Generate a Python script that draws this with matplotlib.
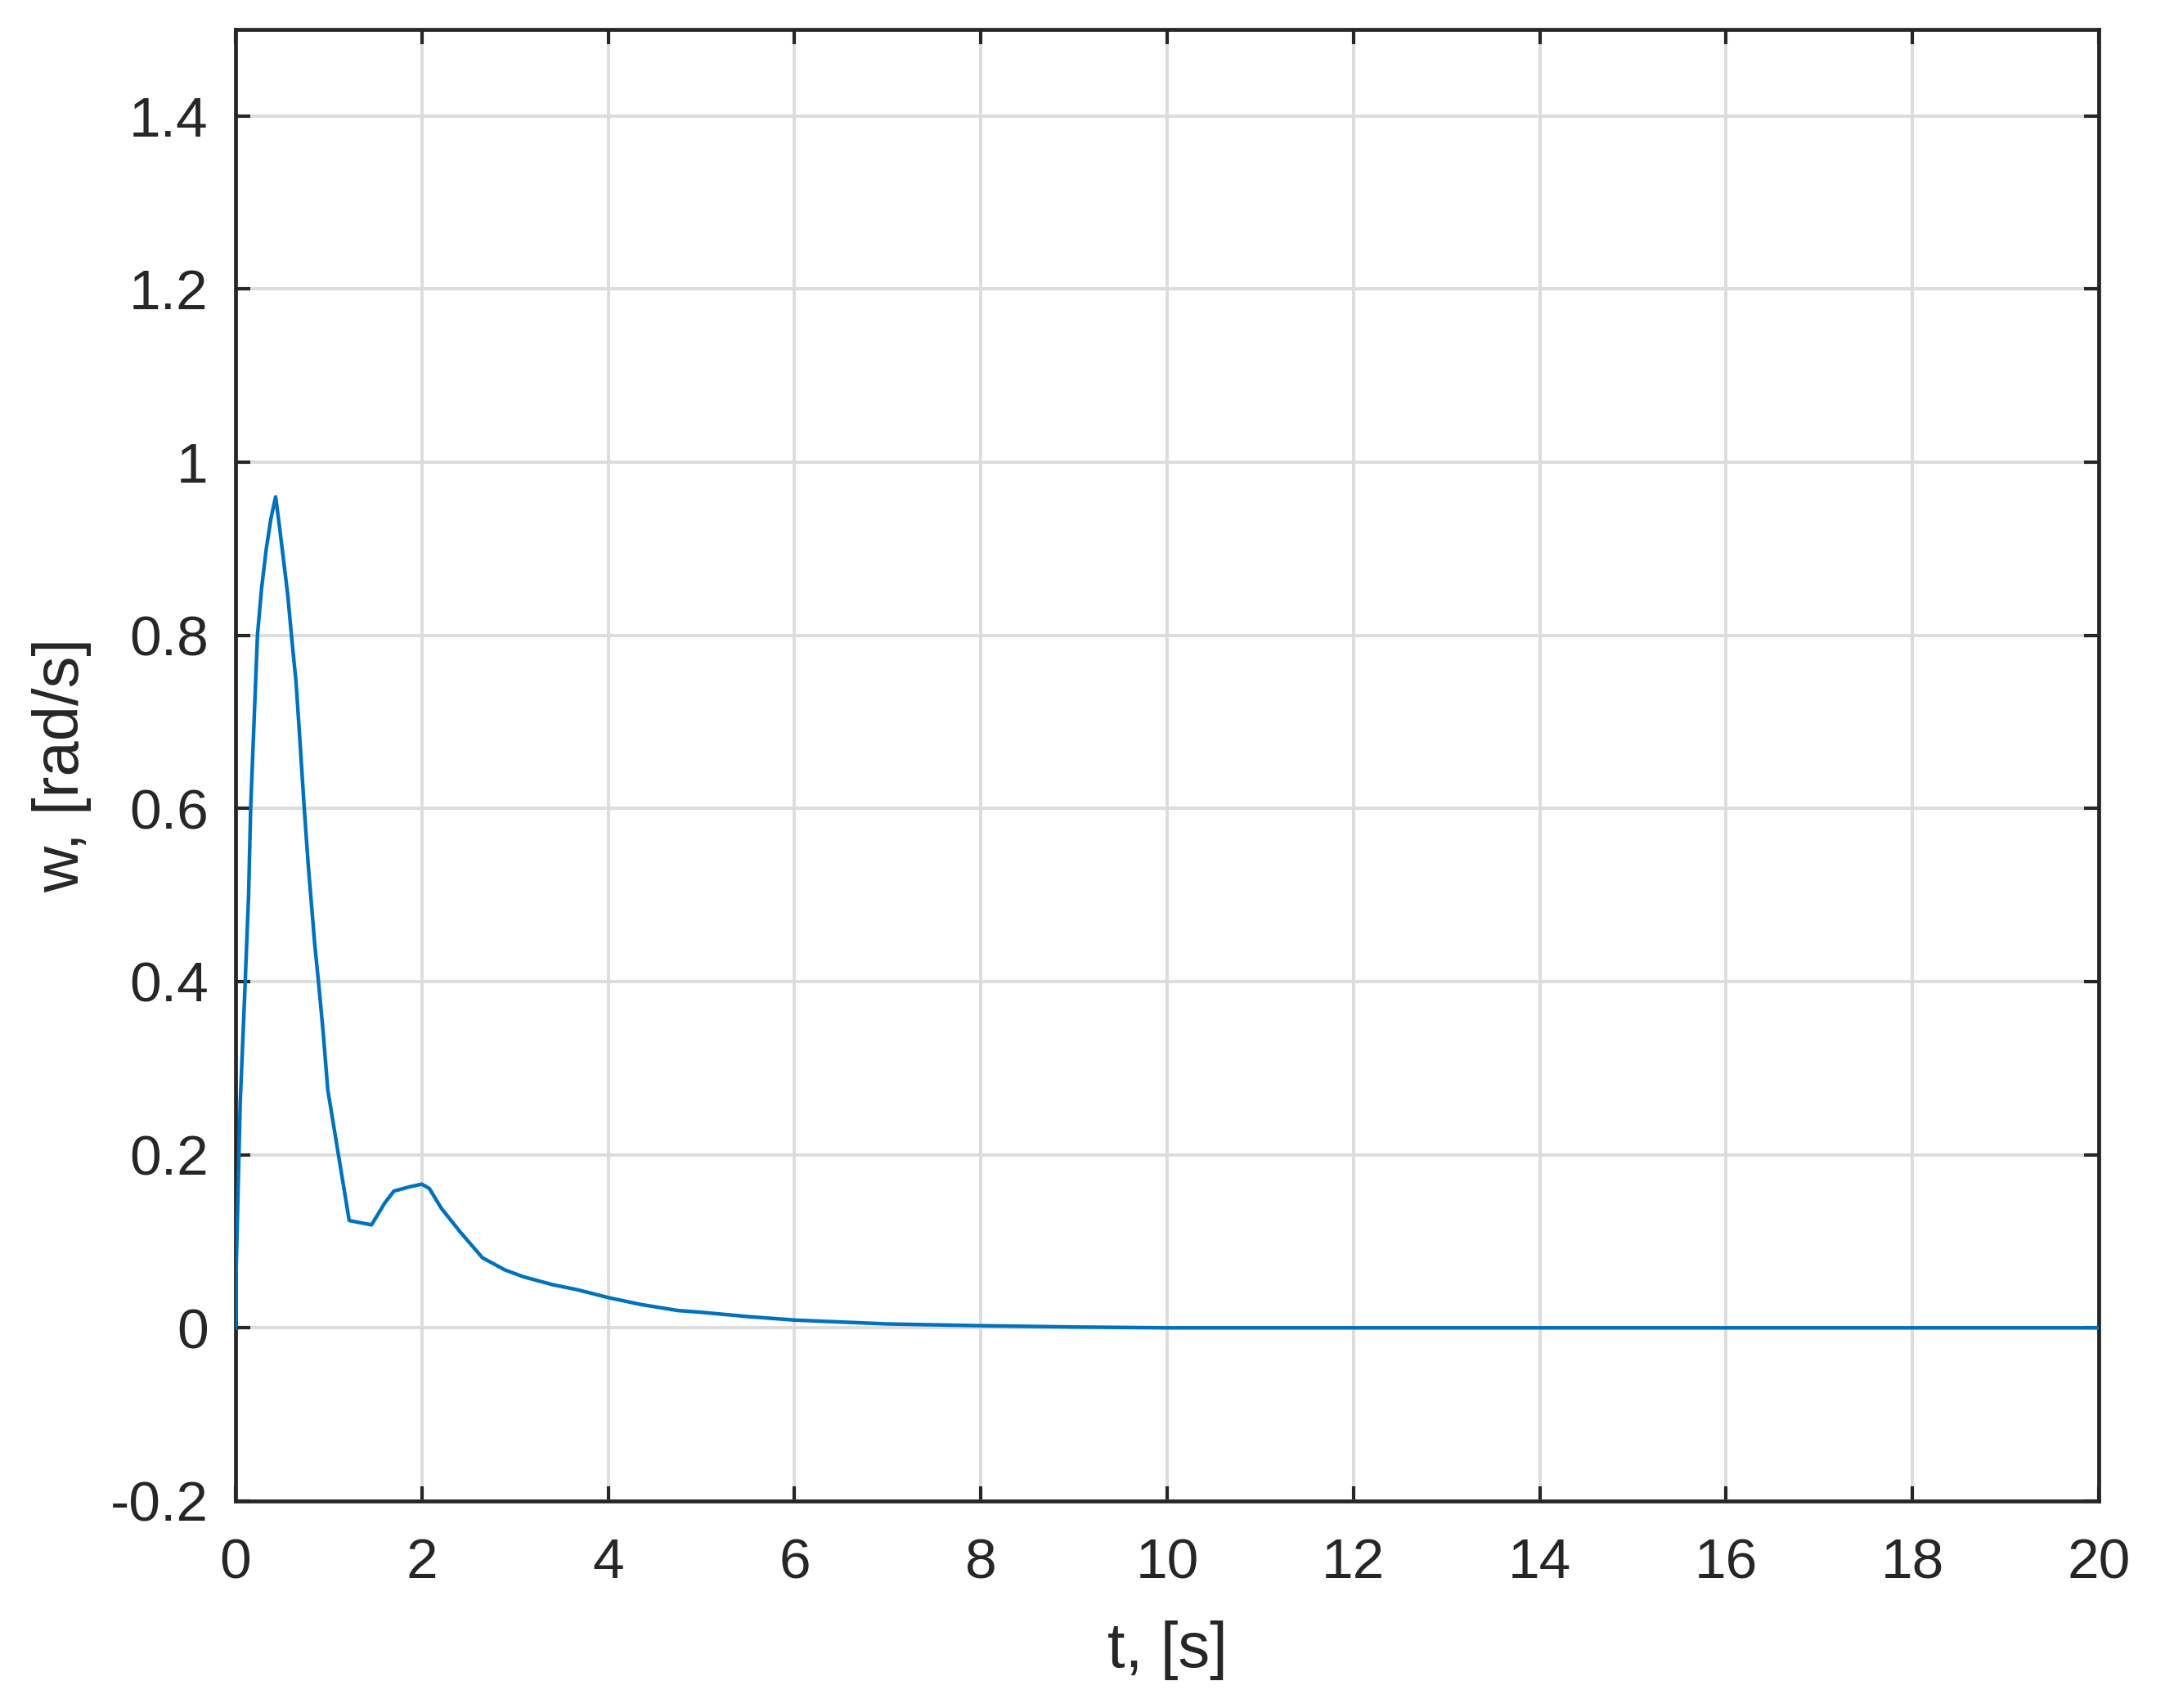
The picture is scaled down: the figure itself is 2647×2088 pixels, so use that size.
import matplotlib
matplotlib.use("Agg")
import matplotlib.pyplot as plt

plt.rcParams.update({
    'font.family': ['Liberation Sans', 'DejaVu Sans'],
    'text.color': '#262626',
    'axes.labelcolor': '#262626',
    'xtick.color': '#262626',
    'ytick.color': '#262626',
})

# angular velocity response
t = [0, 0.005, 0.05, 0.10, 0.14, 0.162, 0.235, 0.28, 0.33, 0.38, 0.43,
     0.47, 0.515, 0.56, 0.60, 0.65, 0.69, 0.735, 0.78, 0.85, 0.89, 0.94,
     0.99, 1.22, 1.46, 1.60, 1.70, 1.87, 2.0,
     2.08, 2.21, 2.41, 2.65, 2.89, 3.09, 3.40, 3.67, 4.0, 4.35, 4.75,
     5.0, 5.5, 6.0, 7.0, 8.0, 9.0, 10.0, 20.0]
w = [0, 0.06, 0.26, 0.39, 0.50, 0.60, 0.80, 0.855, 0.90, 0.935, 0.96,
     0.927, 0.887, 0.847, 0.80, 0.745, 0.68, 0.604, 0.535, 0.443, 0.40, 0.342,
     0.275, 0.124, 0.119, 0.144, 0.158, 0.163, 0.166,
     0.161, 0.138, 0.111, 0.081, 0.067, 0.059, 0.050, 0.044, 0.035, 0.027, 0.020,
     0.018, 0.013, 0.009, 0.0045, 0.0025, 0.001, 0.0, 0.0]

xticks = list(range(0, 21, 2))
yticks = [-0.2, 0, 0.2, 0.4, 0.6, 0.8, 1, 1.2, 1.4]
ytick_labels = ['-0.2', '0', '0.2', '0.4', '0.6', '0.8', '1', '1.2', '1.4']

fig = plt.figure(figsize=(26.47, 20.88), dpi=100)
ax = fig.add_axes([0.1088, 0.1212, 0.8606, 0.8616])

ax.plot(t, w, color='#0072BD', linewidth=3.2, zorder=3)

ax.set_xlim(0, 20)
ax.set_ylim(-0.2, 1.5)
ax.set_xticks(xticks)
ax.set_yticks(yticks)
ax.set_yticklabels(ytick_labels)

ax.grid(True, color='#dcdcdc', linewidth=2.8, zorder=0)
ax.set_axisbelow(True)
for s in ax.spines.values():
    s.set_linewidth(3.4)
    s.set_color('#262626')

ax.tick_params(direction='in', length=13, width=3, top=True, right=True,
               labelsize=50)
ax.tick_params(axis='x', pad=32)
ax.tick_params(axis='y', pad=24)

ax.set_xlabel('t, [s]', fontsize=56, labelpad=27)
ax.set_ylabel('w, [rad/s]', fontsize=56, labelpad=16)

fig.savefig('out.png', dpi=100)
